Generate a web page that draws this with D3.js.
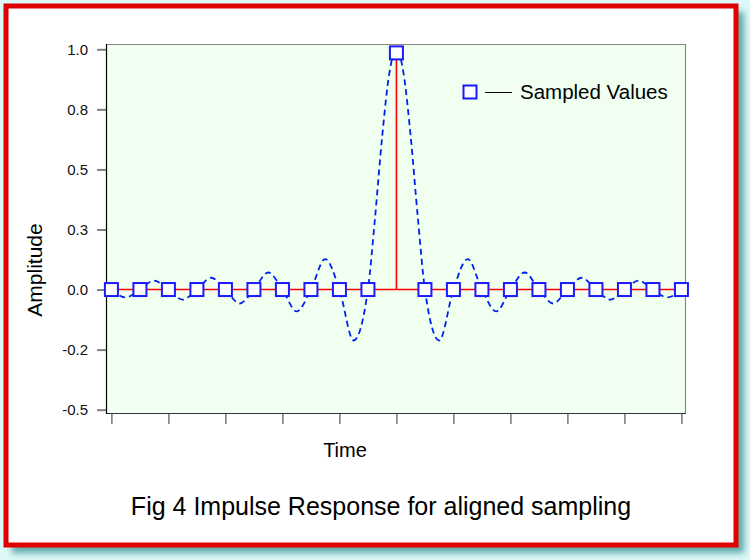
<!DOCTYPE html>
<html>
<head>
<meta charset="utf-8">
<script src="https://cdn.jsdelivr.net/npm/d3@7/dist/d3.min.js"></script>
<style>
  html, body { margin: 0; padding: 0; background: #dcf8f8; }
  svg { display: block; font-family: "Liberation Sans", Arial, Helvetica, sans-serif; }
</style>
</head>
<body>
<svg id="chart" width="750" height="560"></svg>
<script>
// ---- data ----
const sampleTimes  = [-10,-9,-8,-7,-6,-5,-4,-3,-2,-1,0,1,2,3,4,5,6,7,8,9,10];
const sampleValues = [0,0,0,0,0,0,0,0,0,0,0.985,0,0,0,0,0,0,0,0,0,0];

// underlying continuous response (dashed), read at zero crossings and lobe peaks
const curveTimes = [-10,-9.5,-9,-8.5,-8,-7.5,-7,-6.5,-6,-5.5,-5,-4.5,-4,-3.5,-3,-2.5,-2,-1.5,-1,-0.75,-0.5,-0.25,0,
                    0.25,0.5,0.75,1,1.5,2,2.5,3,3.5,4,4.5,5,5.5,6,6.5,7,7.5,8,8.5,9,9.5,10];
const curveValues = [0,-0.033,0,0.037,0,-0.042,0,0.049,0,-0.058,0,0.071,0,-0.091,0,0.127,0,-0.212,0,0.30,0.637,0.90,1.0,
                     0.90,0.637,0.30,0,-0.212,0,0.127,0,-0.091,0,0.071,0,-0.058,0,0.049,0,-0.042,0,0.037,0,-0.033,0];

const yTickValues = [1.0, 0.75, 0.5, 0.25, 0, -0.25, -0.5];
const yTickLabels = ["1.0", "0.8", "0.5", "0.3", "0.0", "-0.2", "-0.5"];
const xTickValues = [-10,-8,-6,-4,-2,0,2,4,6,8,10];

const seriesName = "Sampled Values";
const xLabel = "Time";
const yLabel = "Amplitude";
const title = "Fig 4 Impulse Response for aligned sampling";

// ---- layout ----
const svg = d3.select("#chart");
const plot = { left: 106, top: 44, right: 686, bottom: 414 };

// frame with shadow
const defs = svg.append("defs");
const f = defs.append("filter").attr("id", "shadow").attr("x", "-5%").attr("y", "-5%").attr("width", "115%").attr("height", "115%");
f.append("feGaussianBlur").attr("stdDeviation", 3);
defs.append("clipPath").attr("id", "plotclip")
  .append("rect").attr("x", plot.left).attr("y", plot.top)
  .attr("width", plot.right - plot.left).attr("height", plot.bottom - plot.top);

svg.append("rect").attr("x", 12).attr("y", 12).attr("width", 732).attr("height", 541)
  .attr("fill", "#5fa9a9").attr("filter", "url(#shadow)");
svg.append("rect").attr("x", 6).attr("y", 6).attr("width", 730).attr("height", 539)
  .attr("fill", "#ffffff").attr("stroke", "#e00000").attr("stroke-width", 5);

// scales
const x = d3.scaleLinear().domain([-10.19, 10.16]).range([plot.left, plot.right]);
const y = d3.scaleLinear().domain([-0.518, 1.022]).range([plot.bottom, plot.top]);

// plot background
svg.append("rect").attr("x", plot.left).attr("y", plot.top)
  .attr("width", plot.right - plot.left).attr("height", plot.bottom - plot.top)
  .attr("fill", "#f0fff0");

// y axis
const yAxis = d3.axisLeft(y).tickValues(yTickValues)
  .tickFormat((d, i) => yTickLabels[i]).tickSize(9).tickPadding(9);
const gy = svg.append("g").attr("transform", `translate(${plot.left},0)`).call(yAxis);
gy.select(".domain").remove();
gy.selectAll(".tick line").attr("stroke", "#808080").attr("stroke-width", 2);
gy.selectAll(".tick text").attr("font-size", 15).attr("fill", "#111")
  .attr("font-family", "Liberation Sans, Arial, sans-serif");

// x axis
const xAxis = d3.axisBottom(x).tickValues(xTickValues).tickFormat("").tickSize(10);
const gx = svg.append("g").attr("transform", `translate(0,${plot.bottom})`).call(xAxis);
gx.select(".domain").remove();
gx.selectAll(".tick line").attr("stroke", "#333").attr("stroke-width", 1);

// frame lines
svg.append("line").attr("x1", plot.left).attr("x2", plot.right).attr("y1", plot.top + 0.5).attr("y2", plot.top + 0.5)
  .attr("stroke", "#888").attr("stroke-width", 1.2);
svg.append("line").attr("x1", plot.right - 0.5).attr("x2", plot.right - 0.5).attr("y1", plot.top).attr("y2", plot.bottom)
  .attr("stroke", "#888").attr("stroke-width", 1.2);
svg.append("line").attr("x1", plot.left).attr("x2", plot.right).attr("y1", plot.bottom - 0.5).attr("y2", plot.bottom - 0.5)
  .attr("stroke", "#333").attr("stroke-width", 1);
svg.append("line").attr("x1", plot.left + 0.5).attr("x2", plot.left + 0.5).attr("y1", plot.top).attr("y2", plot.bottom)
  .attr("stroke", "#000").attr("stroke-width", 1.2);

// zero baseline (red)
const gPlot = svg.append("g").attr("clip-path", "url(#plotclip)");
gPlot.append("line").attr("x1", plot.left).attr("x2", plot.right)
  .attr("y1", y(0)).attr("y2", y(0)).attr("stroke", "#ff0000").attr("stroke-width", 1.6);

// dashed continuous response
const curvePts = curveTimes.map((t, i) => [t, curveValues[i]]);
gPlot.append("path").datum(curvePts)
  .attr("d", d3.line().x(d => x(d[0])).y(d => y(d[1])).curve(d3.curveMonotoneX))
  .attr("fill", "none").attr("stroke", "#0022ee").attr("stroke-width", 1.8)
  .attr("stroke-dasharray", "6,4");

// stems
const samples = sampleTimes.map((t, i) => ({ t, v: sampleValues[i] }));
gPlot.selectAll("line.stem").data(samples).enter().append("line").attr("class", "stem")
  .attr("x1", d => x(d.t)).attr("x2", d => x(d.t))
  .attr("y1", y(0)).attr("y2", d => y(d.v))
  .attr("stroke", "#ff0000").attr("stroke-width", 1.6);

// markers
const ms = 13;
svg.selectAll("rect.mk").data(samples).enter().append("rect").attr("class", "mk")
  .attr("x", d => x(d.t) - ms / 2).attr("y", d => y(d.v) - ms / 2)
  .attr("width", ms).attr("height", ms)
  .attr("fill", "#ffffff").attr("stroke", "#1a1aff").attr("stroke-width", 2);

// legend
const lg = svg.append("g").attr("transform", "translate(470,92)");
lg.append("rect").attr("x", -ms / 2).attr("y", -ms / 2).attr("width", ms).attr("height", ms)
  .attr("fill", "#ffffff").attr("stroke", "#1a1aff").attr("stroke-width", 2);
lg.append("line").attr("x1", 15).attr("x2", 42).attr("y1", 0.5).attr("y2", 0.5)
  .attr("stroke", "#000").attr("stroke-width", 1);
lg.append("text").attr("x", 50).attr("y", 7).attr("font-size", 20.5).attr("fill", "#000").text(seriesName);

// axis labels
svg.append("text").attr("x", 345).attr("y", 457).attr("text-anchor", "middle")
  .attr("font-size", 20).attr("fill", "#000").text(xLabel);
svg.append("text").attr("transform", "translate(42,270) rotate(-90)").attr("text-anchor", "middle")
  .attr("font-size", 21).attr("fill", "#000").text(yLabel);

// title
svg.append("text").attr("x", 381).attr("y", 515).attr("text-anchor", "middle")
  .attr("font-size", 25).attr("fill", "#000").text(title);
</script>
</body>
</html>
